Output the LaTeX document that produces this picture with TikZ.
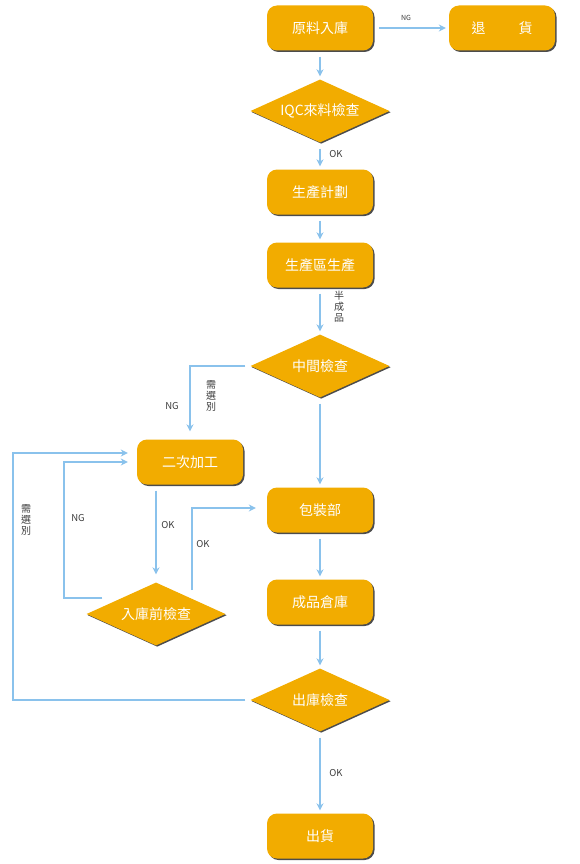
\documentclass[tikz,border=0pt]{standalone}
\usepackage{fontspec}
\setmainfont{Noto Sans CJK TC}
\usetikzlibrary{shapes.geometric,shadows,arrows.meta}
\definecolor{boxorange}{RGB}{242,172,0}
\definecolor{flowblue}{RGB}{138,194,236}
\definecolor{labelgray}{RGB}{60,60,60}
\begin{document}
\begin{tikzpicture}[x=1pt,y=-1pt]
    \tikzset{proc/.style = {shape=rectangle,rounded corners=10pt,fill=boxorange,text=white,
        minimum width=106pt,minimum height=45pt,font=\fontsize{14}{16}\selectfont,
        drop shadow={shadow xshift=1.5pt,shadow yshift=-1.5pt,fill=black!70,opacity=1}}}
    \tikzset{check/.style = {shape=diamond,fill=boxorange,text=white,aspect=2.2,inner sep=0pt,
        minimum width=139pt,minimum height=63pt,font=\fontsize{14}{16}\selectfont,
        drop shadow={shadow xshift=1.2pt,shadow yshift=-1.2pt,fill=black!70,opacity=1}}}
    \tikzset{flow/.style = {draw=flowblue,line width=2pt,-{Stealth[length=7pt,width=7pt]},
        shorten <=6pt,shorten >=3pt}}
    \tikzset{lbl/.style = {text=labelgray,font=\fontsize{9.5}{11}\selectfont,inner sep=0pt}}
    \tikzset{vlbl/.style = {lbl,align=center,font=\fontsize{10}{11}\selectfont}}
    \useasboundingbox (0,0) rectangle (580,864);
    % main column
    \node[proc] (raw) at (320,28) {原料入庫};
    \node[proc] (ret) at (502,28) {退\hspace{33pt}貨};
    \node[check] (iqc) at (320,111) {IQC來料檢查};
    \node[proc] (plan) at (320,192) {生產計劃};
    \node[proc] (make) at (320,265) {生產區生產};
    \node[check] (mid) at (320,366) {中間檢查};
    \node[proc] (pack) at (320,510) {包裝部};
    \node[proc] (store) at (320,602) {成品倉庫};
    \node[check] (oqc) at (320,700) {出庫檢查};
    \node[proc] (ship) at (320,836) {出貨};
    % side branch
    \node[proc] (rework) at (190,462) {二次加工};
    \node[check] (pre) at (156,614) {入庫前檢查};
    % connectors
    \draw[flow] (raw) -- (ret);
    \draw[flow] (raw) -- (iqc);
    \draw[flow] (iqc) -- (plan);
    \draw[flow] (plan) -- (make);
    \draw[flow] (make) -- (mid);
    \draw[flow] (mid) -- (pack);
    \draw[flow] (pack) -- (store);
    \draw[flow] (store) -- (oqc);
    \draw[flow] (oqc) -- (ship);
    \draw[flow,shorten <=5pt,shorten >=8pt] (mid.west) -| (rework.north);
    \draw[flow,shorten >=8pt] (rework.south -| pre.north) -- (pre.north);
    \draw[flow,shorten <=0pt,shorten >=9pt] ([shift={(16,-16)}]pre.west) -- ++(-38,0) |- (rework.west);
    \draw[flow,shorten <=0pt,shorten >=11pt] ([shift={(36,-24)}]pre.center) |- ([yshift=2pt]pack.west);
    \draw[flow,shorten <=5pt,shorten >=9pt] (oqc.west) -- ++(-237,0) |- ([yshift=9pt]rework.west);
    % labels
    \node[lbl,font=\fontsize{7}{8}\selectfont] (ng1) at (406,18) {NG};
    \node[lbl] (ok1) at (336,154) {OK};
    \node[vlbl] (semi) at (339,307) {半\\成\\品};
    \node[lbl] (ng2) at (172,406) {NG};
    \node[vlbl] (sort1) at (211,396) {需\\選\\別};
    \node[lbl] (ok2) at (168,525) {OK};
    \node[lbl] (ng3) at (78,518) {NG};
    \node[lbl] (ok3) at (203,544) {OK};
    \node[vlbl] (sort2) at (26,520) {需\\選\\別};
    \node[lbl] (ok4) at (336,773) {OK};
  \end{tikzpicture}
\end{document}
